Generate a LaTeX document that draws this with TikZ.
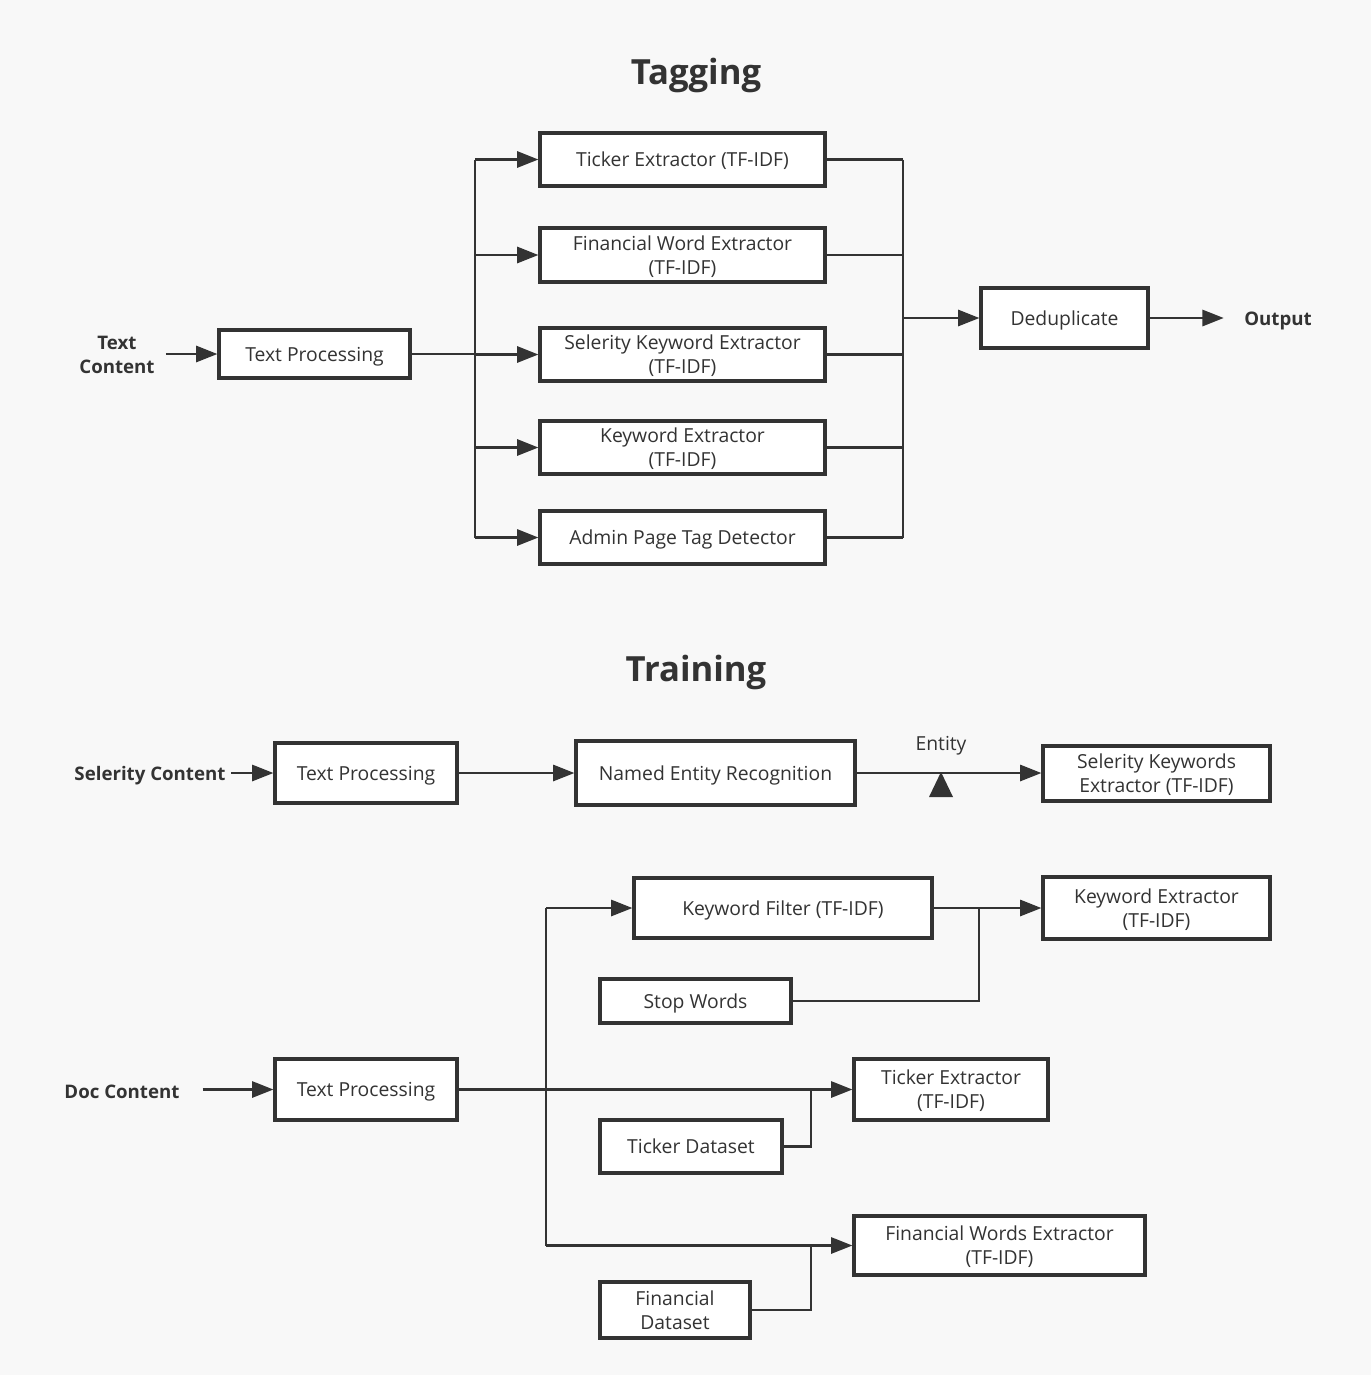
\documentclass[tikz,border=0pt]{standalone}
\usepackage{fontspec}
\setmainfont{Open Sans}
\usetikzlibrary{arrows.meta}
\definecolor{ink}{RGB}{51,51,51}
\definecolor{paper}{RGB}{248,248,248}
\tikzset{every picture/.style={line width=0.75pt}}

\begin{document}
\begin{tikzpicture}[x=0.75pt,y=0.75pt,yscale=-1,xscale=1,
	box/.style={draw=ink, fill=white, line width=2.3pt, align=center, inner sep=0pt, text depth=0pt, text=ink, font=\fontsize{14.5}{18}\selectfont},
	sz/.style 2 args={minimum width=#1*0.75pt, minimum height=#2*0.75pt},
	lbl/.style={text=ink, align=center, inner sep=0pt, font=\fontsize{14}{18}\selectfont\bfseries},
	ttl/.style={text=ink, inner sep=0pt, font=\fontsize{26}{30}\selectfont\bfseries},
	con/.style={draw=ink, line width=2.1pt},
	arr/.style={con, -{Triangle[length=16pt,width=12pt]}}]
		\fill[paper] (0,0) rectangle (1371,1375);
		\useasboundingbox (0,0) rectangle (1371,1375);
		
		%Tagging
		\node[ttl] (tagT) at (696,75) {Tagging};
		\node[lbl] (txtC) at (117,355) {Text\\Content};
		\node[box,sz={191}{48}] (proc1) at (314.5,354) {Text Processing};
		\node[box,sz={285}{53}] (tick1) at (682.5,159.5) {Ticker Extractor (TF-IDF)};
		\node[box,sz={285}{54}] (finw1) at (682.5,255) {Financial Word Extractor\\(TF-IDF)};
		\node[box,sz={285}{53}] (selk1) at (682.5,354.5) {Selerity Keyword Extractor\\(TF-IDF)};
		\node[box,sz={285}{53}] (keyw1) at (682.5,447.5) {Keyword Extractor\\(TF-IDF)};
		\node[box,sz={285}{53}] (admn1) at (682.5,537.5) {Admin Page Tag Detector};
		\node[box,sz={167}{60}] (dedup) at (1064.5,318) {Deduplicate};
		\node[lbl] (outp) at (1278,321) {Output};
		\coordinate (busL) at (475,354);
		\coordinate (busR) at (903,318);
		
		\draw[arr,shorten <=8pt] (txtC.east |- proc1) -- (proc1.west);
		\draw[con] (proc1.east) -- (busL);
		\draw[con] (busL |- tick1) -- (busL |- admn1);
		\foreach \n in {tick1,finw1,selk1,keyw1,admn1} {
			\draw[arr] (busL |- \n) -- (\n.west);
			\draw[con] (\n.east) -- (busR |- \n);
		}
		\draw[con] (busR |- tick1) -- (busR |- admn1);
		\draw[arr] (busR) -- (dedup.west);
		\draw[arr,shorten >=15pt] (dedup.east) -- (dedup.east -| outp.west);
		
		%Training
		\node[ttl] (trnT) at (696,672) {Training};
		\node[lbl] (selC) at (150,776) {Selerity Content};
		\node[box,sz={182}{60}] (proc2) at (366,773) {Text Processing};
		\node[box,sz={279}{64}] (ner) at (715.5,773) {Named Entity Recognition};
		\node[box,sz={227}{55}] (selKw) at (1156.5,773.5) {Selerity Keywords\\Extractor (TF-IDF)};
		\node[text=ink, inner sep=0pt, font=\fontsize{14.5}{18}\selectfont] (ent) at (941,746) {Entity};
		
		\draw[arr,shorten <=4pt] (selC.east |- proc2) -- (proc2.west);
		\draw[arr] (proc2.east) -- (ner.west);
		\draw[arr] (ner.east) -- (ner.east -| selKw.west);
		\fill[ink] (929,797) -- (941,772) -- (953,797) -- cycle;
		
		\node[box,sz={298}{60}] (kwF) at (783,908) {Keyword Filter (TF-IDF)};
		\node[box,sz={227}{62}] (kwX) at (1156.5,908) {Keyword Extractor\\(TF-IDF)};
		\node[box,sz={191}{44}] (stopW) at (695.5,1001) {Stop Words};
		\node[lbl] (docC) at (122,1092) {Doc Content};
		\node[box,sz={182}{61}] (proc3) at (366,1089.5) {Text Processing};
		\node[box,sz={194}{61}] (tickX) at (951,1089.5) {Ticker Extractor\\(TF-IDF)};
		\node[box,sz={182}{53}] (tickD) at (691,1146.5) {Ticker Dataset};
		\node[box,sz={291}{59}] (finX) at (999.5,1245.5) {Financial Words Extractor\\(TF-IDF)};
		\node[box,sz={150}{56}] (finD) at (675,1310) {Financial\\Dataset};
		\coordinate (busD) at (546,908);
		\coordinate (jK) at (979,908);
		\coordinate (jT) at (811,1089.5);
		\coordinate (jF) at (811,1245.5);
		
		\draw[arr,shorten <=17pt] (docC.east |- proc3) -- (proc3.west);
		\draw[arr] (proc3.east) -- (tickX.west);
		\draw[con] (busD) -- (busD |- finX);
		\draw[arr] (busD) -- (kwF.west);
		\draw[arr] (busD |- finX) -- (finX.west);
		\draw[arr] (kwF.east) -- (kwX.west);
		\draw[con] (stopW.east) -| (jK);
		\draw[con] (tickD.east) -| (jT);
		\draw[con] (finD.east) -| (jF);
		
\end{tikzpicture}
\end{document}
